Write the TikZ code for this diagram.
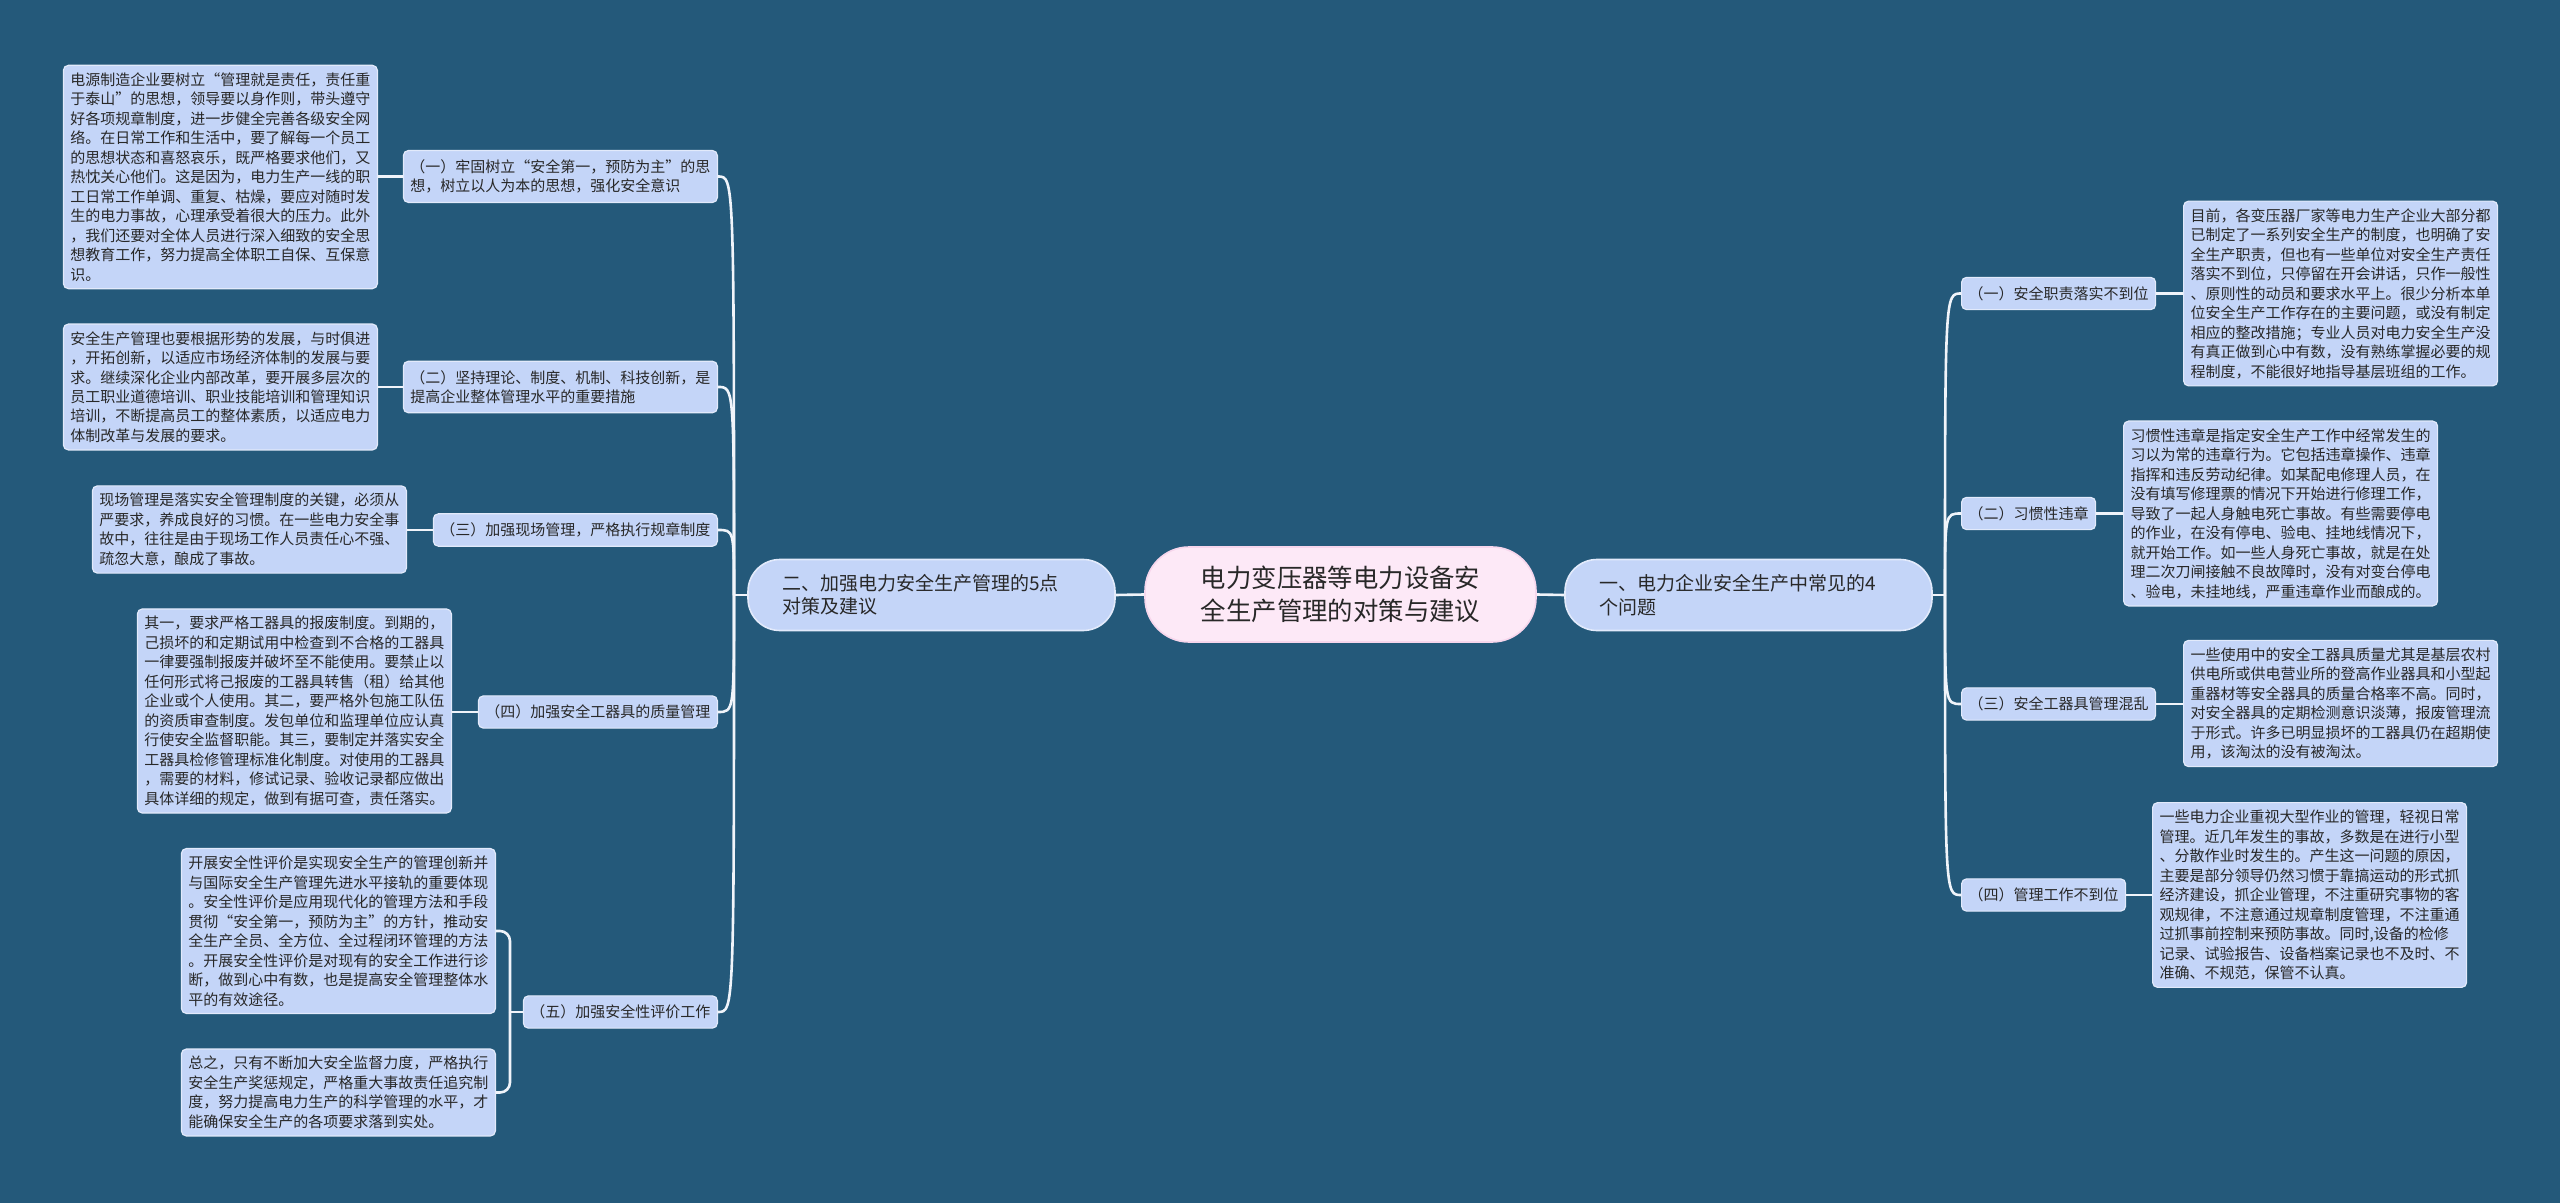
\documentclass[tikz,border=0pt]{standalone}
\usepackage{fontspec}
\setmainfont{Noto Sans CJK SC}
\usetikzlibrary{calc}
\definecolor{bg}{RGB}{36,89,122}
\definecolor{nfill}{RGB}{196,213,248}
\definecolor{nline}{RGB}{226,234,251}
\definecolor{cfill}{RGB}{253,233,247}
\definecolor{cline}{RGB}{246,214,236}
\definecolor{txt}{RGB}{40,40,40}
\definecolor{linkc}{RGB}{240,244,250}
\tikzset{
 leaf/.style={draw=nline, fill=nfill, line width=0.6pt, rounded corners=2.5pt, text width=150pt, align=left, inner xsep=3.5pt, inner ysep=3.6pt, font=\fontsize{7.5pt}{9.75pt}\selectfont, text=txt},
 sub/.style={draw=nline, fill=nfill, line width=0.6pt, rounded corners=2.5pt, align=left, inner xsep=3.5pt, inner ysep=4.5pt, font=\fontsize{7.5pt}{9.75pt}\selectfont, text=txt},
 mainb/.style={draw=nline, fill=nfill, line width=0.8pt, rounded corners=16pt, text width=149.5pt, align=left, inner xsep=17pt, minimum height=35.5pt, font=\fontsize{9.5pt}{11.7pt}\selectfont, text=txt},
 central/.style={draw=cline, fill=cfill, line width=0.8pt, rounded corners=22pt, minimum width=195.5pt, minimum height=47.5pt, align=center, font=\fontsize{12.7pt}{16.5pt}\selectfont, text=txt},
 link/.style={draw=linkc, line width=1.3pt},
}
\begin{document}
\begin{tikzpicture}[x=0.5pt,y=-0.5pt]
\fill[bg] (0,0) rectangle (2560,1203);
\useasboundingbox (0,0) rectangle (2560,1203);

% centre and main branches
\node[central] (C) at (1340.5,594.5) {电力变压器等电力设备安\\全生产管理的对策与建议};
\node[mainb] (M2) at (931.5,595) {二、加强电力安全生产管理的5点\\对策及建议};
\node[mainb] (M1) at (1748.5,595) {一、电力企业安全生产中常见的4\\个问题};

% left sub-branches
\node[sub, anchor=east] (B1) at (718,176.5) {（一）牢固树立“安全第一，预防为主”的思\\想，树立以人为本的思想，强化安全意识};
\node[sub, anchor=east] (B2) at (718,387) {（二）坚持理论、制度、机制、科技创新，是\\提高企业整体管理水平的重要措施};
\node[sub, anchor=east] (B3) at (718,530) {（三）加强现场管理，严格执行规章制度};
\node[sub, anchor=east] (B4) at (718,712) {（四）加强安全工器具的质量管理};
\node[sub, anchor=east] (B5) at (718,1012) {（五）加强安全性评价工作};

% left leaves
\node[leaf, anchor=east] (L1) at (378,177) {电源制造企业要树立“管理就是责任，责任重\\于泰山”的思想，领导要以身作则，带头遵守\\好各项规章制度，进一步健全完善各级安全网\\络。在日常工作和生活中，要了解每一个员工\\的思想状态和喜怒哀乐，既严格要求他们，又\\热忱关心他们。这是因为，电力生产一线的职\\工日常工作单调、重复、枯燥，要应对随时发\\生的电力事故，心理承受着很大的压力。此外\\，我们还要对全体人员进行深入细致的安全思\\想教育工作，努力提高全体职工自保、互保意\\识。};
\node[leaf, anchor=east] (L2) at (378,387) {安全生产管理也要根据形势的发展，与时俱进\\，开拓创新，以适应市场经济体制的发展与要\\求。继续深化企业内部改革，要开展多层次的\\员工职业道德培训、职业技能培训和管理知识\\培训，不断提高员工的整体素质，以适应电力\\体制改革与发展的要求。};
\node[leaf, anchor=east] (L3) at (407,529.5) {现场管理是落实安全管理制度的关键，必须从\\严要求，养成良好的习惯。在一些电力安全事\\故中，往往是由于现场工作人员责任心不强、\\疏忽大意，酿成了事故。};
\node[leaf, anchor=east] (L4) at (452,711) {其一，要求严格工器具的报废制度。到期的，\\己损坏的和定期试用中检查到不合格的工器具\\一律要强制报废并破坏至不能使用。要禁止以\\任何形式将己报废的工器具转售（租）给其他\\企业或个人使用。其二，要严格外包施工队伍\\的资质审查制度。发包单位和监理单位应认真\\行使安全监督职能。其三，要制定并落实安全\\工器具检修管理标准化制度。对使用的工器具\\，需要的材料，修试记录、验收记录都应做出\\具体详细的规定，做到有据可查，责任落实。};
\node[leaf, anchor=east] (L5a) at (496,931) {开展安全性评价是实现安全生产的管理创新并\\与国际安全生产管理先进水平接轨的重要体现\\。安全性评价是应用现代化的管理方法和手段\\贯彻“安全第一，预防为主”的方针，推动安\\全生产全员、全方位、全过程闭环管理的方法\\。开展安全性评价是对现有的安全工作进行诊\\断，做到心中有数，也是提高安全管理整体水\\平的有效途径。};
\node[leaf, anchor=east] (L5b) at (496,1092.5) {总之，只有不断加大安全监督力度，严格执行\\安全生产奖惩规定，严格重大事故责任追究制\\度，努力提高电力生产的科学管理的水平，才\\能确保安全生产的各项要求落到实处。};

% right sub-branches
\node[sub, anchor=west] (RB1) at (1961,293.5) {（一）安全职责落实不到位};
\node[sub, anchor=west] (RB2) at (1961,513.5) {（二）习惯性违章};
\node[sub, anchor=west] (RB3) at (1961,704) {（三）安全工器具管理混乱};
\node[sub, anchor=west] (RB4) at (1961,895) {（四）管理工作不到位};

% right leaves
\node[leaf, anchor=west] (R1) at (2183,293.5) {目前，各变压器厂家等电力生产企业大部分都\\已制定了一系列安全生产的制度，也明确了安\\全生产职责，但也有一些单位对安全生产责任\\落实不到位，只停留在开会讲话，只作一般性\\、原则性的动员和要求水平上。很少分析本单\\位安全生产工作存在的主要问题，或没有制定\\相应的整改措施；专业人员对电力安全生产没\\有真正做到心中有数，没有熟练掌握必要的规\\程制度，不能很好地指导基层班组的工作。};
\node[leaf, anchor=west] (R2) at (2123,513.5) {习惯性违章是指定安全生产工作中经常发生的\\习以为常的违章行为。它包括违章操作、违章\\指挥和违反劳动纪律。如某配电修理人员，在\\没有填写修理票的情况下开始进行修理工作，\\导致了一起人身触电死亡事故。有些需要停电\\的作业，在没有停电、验电、挂地线情况下，\\就开始工作。如一些人身死亡事故，就是在处\\理二次刀闸接触不良故障时，没有对变台停电\\、验电，未挂地线，严重违章作业而酿成的。};
\node[leaf, anchor=west] (R3) at (2183,703.5) {一些使用中的安全工器具质量尤其是基层农村\\供电所或供电营业所的登高作业器具和小型起\\重器材等安全器具的质量合格率不高。同时，\\对安全器具的定期检测意识淡薄，报废管理流\\于形式。许多已明显损坏的工器具仍在超期使\\用，该淘汰的没有被淘汰。};
\node[leaf, anchor=west] (R4) at (2152,895) {一些电力企业重视大型作业的管理，轻视日常\\管理。近几年发生的事故，多数是在进行小型\\、分散作业时发生的。产生这一问题的原因，\\主要是部分领导仍然习惯于靠搞运动的形式抓\\经济建设，抓企业管理，不注重研究事物的客\\观规律，不注意通过规章制度管理，不注重通\\过抓事前控制来预防事故。同时,设备的检修\\记录、试验报告、设备档案记录也不及时、不\\准确、不规范，保管不认真。};

% connectors: centre to main branches
\draw[link] (C.west) -- (M2.east);
\draw[link] (C.east) -- (M1.west);

% left trunk
\coordinate (lt) at (734,595);
\draw[link] (M2.west) -- (lt);
\foreach \b in {B1,B2,B3,B4,B5}{
  \draw[link] (lt) .. controls (lt |- \b.east) .. (\b.east);
}
% right trunk
\coordinate (rt) at (1945,595);
\draw[link] (M1.east) -- (rt);
\foreach \b in {RB1,RB2,RB3,RB4}{
  \draw[link] (rt) .. controls (rt |- \b.west) .. (\b.west);
}

% sub-branches to leaves
\draw[link] (B1.west) -- (B1.west -| L1.east);
\draw[link] (B2.west) -- (B2.west -| L2.east);
\draw[link] (B3.west) -- (B3.west -| L3.east);
\draw[link] (B4.west) -- (B4.west -| L4.east);
\coordinate (b5t) at (510,1012);
\draw[link] (B5.west) -- (b5t);
\draw[link, rounded corners=5pt] (b5t) |- (L5a.east);
\draw[link, rounded corners=5pt] (b5t) |- (L5b.east);

\draw[link] (RB1.east) -- (RB1.east -| R1.west);
\draw[link] (RB2.east) -- (RB2.east -| R2.west);
\draw[link] (RB3.east) -- (RB3.east -| R3.west);
\draw[link] (RB4.east) -- (RB4.east -| R4.west);
\end{tikzpicture}
\end{document}
